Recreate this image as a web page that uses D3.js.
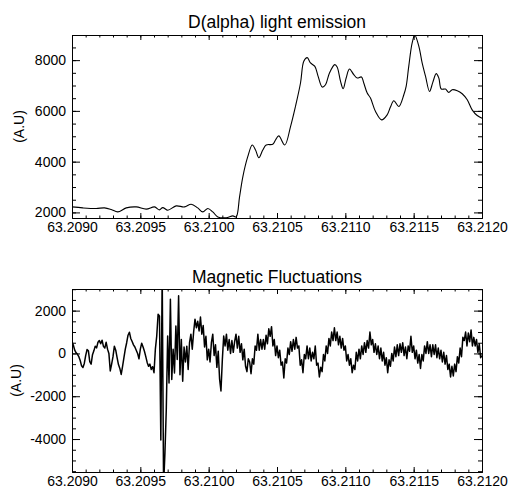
<!DOCTYPE html>
<html>
<head>
<meta charset="utf-8">
<script src="https://cdn.jsdelivr.net/npm/d3@7"></script>
<style>
  body { margin: 0; background: #fff; }
  svg { display: block; }
</style>
</head>
<body>
<svg id="chart" width="510" height="492"></svg>
<script>
// D(alpha) light emission
const dalphaTime = [
  63.20900, 63.209079, 63.209177, 63.209238, 63.209287, 63.209335, 63.209397, 63.209470, 63.209543, 63.209604,
  63.209640, 63.209664, 63.209701, 63.209762, 63.209823, 63.209872, 63.209920, 63.209957, 63.209994, 63.210030,
  63.210067, 63.210128, 63.210177, 63.210201, 63.210226, 63.210250, 63.210286, 63.210319, 63.210343, 63.210367,
  63.210396, 63.210421, 63.210469, 63.210489, 63.210513, 63.210557, 63.210599, 63.210635, 63.210672, 63.210696,
  63.210721, 63.210745, 63.210777, 63.210801, 63.210831, 63.210855, 63.210884, 63.210923, 63.210940, 63.210965,
  63.210984, 63.211006, 63.211030, 63.211062, 63.211087, 63.211118, 63.211135, 63.211160, 63.211184, 63.211221,
  63.211265, 63.211306, 63.211330, 63.211355, 63.211391, 63.211428, 63.211445, 63.211464, 63.211489, 63.211508,
  63.211538, 63.211562, 63.211587, 63.211616, 63.211640, 63.211665, 63.211684, 63.211702, 63.211733, 63.211757,
  63.211782, 63.211819, 63.211855, 63.211892, 63.211928, 63.211965, 63.212000
]
const dalphaValue = [
  2217, 2178, 2154, 2178, 2115, 2020, 2178, 2217, 2128, 2217,
  2100, 2190, 2087, 2257, 2217, 2324, 2178, 2020, 2154, 2020,
  1822, 1790, 1862, 1822, 2613, 3404, 4195, 4658, 4460, 4156,
  4460, 4658, 4685, 4855, 5014, 4658, 5382, 6173, 7098, 7952,
  8099, 7889, 7755, 7360, 6940, 7031, 7494, 7822, 7731, 7161,
  6872, 7296, 7652, 7426, 7296, 7336, 7098, 6703, 6504, 5975,
  5646, 5844, 6149, 6398, 6173, 6635, 6964, 7755, 8680, 8980,
  8545, 7889, 7360, 6766, 7124, 7468, 7296, 6861, 6861, 6726,
  6833, 6794, 6675, 6438, 6042, 5817, 5714
]

// Magnetic fluctuations, one value every 1e-5 s from 63.2090
const magStart = 63.2090
const magStep = 0.00001
const magValue = [
  560, 380, 150, 30, -40, -150, -330, -580, -660, -470,
  -100, 180, 120, -380, -500, -60, 120, 340, 260, 520,
  600, 450, 620, 330, 250, 520, 200, 0, -820, -500,
  -150, 340, 150, -200, -520, -700, -980, -600, -200, 200,
  500, 850, 990, 700, 560, 400, 300, 150, 0, -250,
  200, 480, 300, 100, -150, -420, -600, -500, -750, -620,
  -900, 200, 810, 1830, 1750, -4040, 3800, -6200, -4665, -2600,
  810, -1380, 2530, -1220, 200, -910, 1280, -280, 2690, -1000,
  655, -1300, 300, -400, 340, -750, 500, 900, 200, 1000,
  1600, 1200, 1500, 1050, 1700, 900, 1300, 300, 800, -300,
  200, -400, 500, 900, -100, 400, -650, 100, -1200, -1750,
  -300, 810, 350, 900, 150, 650, 0, 600, 50, 550,
  900, 250, 800, 50, 450, -300, 200, -600, -850, -250,
  -400, -950, -250, -500, 350, 150, 900, 150, 650, 200,
  650, 200, 850, 450, 1150, 800, 1250, 350, 650, -100,
  350, -200, 150, -550, -400, -1150, -250, -450, 250, -50,
  550, 100, 650, 200, 750, 250, 350, -550, -300, -900,
  -50, -250, 350, -250, 250, -350, 50, -250, 350, -550,
  -450, -1100, -650, -850, -50, -350, 350, 0, 700, 350,
  1000, 600, 1200, 600, 1000, 400, 800, 250, 700, 150,
  350, -350, -50, -550, -250, -900, -550, -750, 50, -350,
  200, -250, 350, -50, 500, 50, 600, 250, 1000, 400,
  650, 50, 450, -50, 350, -250, 250, -350, 50, -550,
  -200, -900, -300, -600, 0, -350, 300, -150, 400, -100,
  450, 50, 500, -100, 300, -250, 350, 100, 800, 50,
  350, -250, 150, -450, -50, -700, -50, -350, 350, 0,
  550, 0, 400, -150, 400, -50, 400, -200, 250, -250,
  150, -400, 50, -500, -100, -750, -500, -1100, -600, -1050,
  -500, -850, -150, -450, 250, -150, 750, 600, 1000, 350,
  950, 550, 1100, 350, 750, 350, 650, 50, 450, -200,
  -100
]

// axis ticks
const xTicks = [63.2090, 63.2095, 63.2100, 63.2105, 63.2110, 63.2115, 63.2120]
const topYTicks = [2000, 4000, 6000, 8000]
const botYTicks = [-4000, -2000, 0, 2000]
const titles = ["D(alpha) light emission", "Magnetic Fluctuations"]
const yTitle = "(A.U)"

const svg = d3.select("#chart")
const font = "'Liberation Sans', Arial, Helvetica, sans-serif"

var x = d3.scaleLinear()
  .domain([63.2090, 63.2120])
  .range([72, 482])

var xMinor = d3.range(0, 31).map(function(i) { return 63.2090 + i * 0.0001 })

function drawPanel(opt) {
  var y = d3.scaleLinear().domain(opt.yDomain).range([opt.bottom, opt.top])
  var yMinor = d3.range(opt.minorFrom, opt.yDomain[1], 500)

  // the curve, clipped to the box
  svg.append("clipPath").attr("id", opt.id)
    .append("rect")
    .attr("x", 72.5).attr("y", opt.top + 0.5)
    .attr("width", 410).attr("height", opt.bottom - opt.top)

  svg.append("path")
    .datum(opt.data)
    .attr("clip-path", "url(#" + opt.id + ")")
    .attr("fill", "none")
    .attr("stroke", "#000")
    .attr("stroke-width", opt.lineWidth)
    .attr("stroke-linejoin", "round")
    .attr("d", d3.line()
      .x(function(d) { return x(d.t) })
      .y(function(d) { return y(d.v) })
      .curve(opt.curve))

  // bottom axis with labels
  var bx = svg.append("g").attr("transform", "translate(0," + opt.bottom + ")")
    .call(d3.axisBottom(x).tickValues(xTicks).tickSize(-5).tickSizeOuter(0)
      .tickPadding(4).tickFormat(d3.format(".4f")))
  svg.append("g").attr("transform", "translate(0," + opt.bottom + ")")
    .call(d3.axisBottom(x).tickValues(xMinor).tickSize(-2.5).tickSizeOuter(0).tickFormat(""))
  // top axis, mirrored ticks
  svg.append("g").attr("transform", "translate(0," + opt.top + ")")
    .call(d3.axisTop(x).tickValues(xTicks).tickSize(-5).tickSizeOuter(0).tickFormat(""))
  svg.append("g").attr("transform", "translate(0," + opt.top + ")")
    .call(d3.axisTop(x).tickValues(xMinor).tickSize(-2.5).tickSizeOuter(0).tickFormat(""))

  // left axis with labels
  var ly = svg.append("g").attr("transform", "translate(72,0)")
    .call(d3.axisLeft(y).tickValues(opt.yTicks).tickSize(-8).tickSizeOuter(0)
      .tickPadding(6).tickFormat(function(d) { return String(d) }))
  svg.append("g").attr("transform", "translate(72,0)")
    .call(d3.axisLeft(y).tickValues(yMinor).tickSize(-4).tickSizeOuter(0).tickFormat(""))
  // right axis
  svg.append("g").attr("transform", "translate(482,0)")
    .call(d3.axisRight(y).tickValues(opt.yTicks).tickSize(-8).tickSizeOuter(0).tickFormat(""))
  svg.append("g").attr("transform", "translate(482,0)")
    .call(d3.axisRight(y).tickValues(yMinor).tickSize(-4).tickSizeOuter(0).tickFormat(""))

  svg.selectAll(".domain, .tick line").attr("stroke", "#000")
  ;[bx, ly].forEach(function(g) {
    g.selectAll("text")
      .style("font-family", font)
      .style("font-size", "14px")
      .attr("fill", "#000")
  })

  svg.append("text")
    .attr("x", 277).attr("y", opt.titleY)
    .attr("text-anchor", "middle")
    .style("font-family", font)
    .style("font-size", "17.5px")
    .text(opt.title)

  svg.append("text")
    .attr("transform", "translate(" + opt.yTitleX + "," + ((opt.top + opt.bottom) / 2) + ") rotate(-90)")
    .attr("text-anchor", "middle")
    .style("font-family", font)
    .style("font-size", "14px")
    .text(yTitle)
}

var dalpha = dalphaTime.map(function(t, i) { return { t: t, v: dalphaValue[i] } })
var mag = magValue.map(function(v, i) { return { t: magStart + i * magStep, v: v } })

drawPanel({
  id: "clipTop", data: dalpha, top: 35, bottom: 218,
  yDomain: [1780, 8990], yTicks: topYTicks, minorFrom: 2000,
  title: titles[0], titleY: 28, yTitleX: 24,
  curve: d3.curveCatmullRom, lineWidth: 1.1
})

drawPanel({
  id: "clipBot", data: mag, top: 289, bottom: 472,
  yDomain: [-5540, 3010], yTicks: botYTicks, minorFrom: -5500,
  title: titles[1], titleY: 283, yTitleX: 21,
  curve: d3.curveLinear, lineWidth: 1.5
})
</script>
</body>
</html>
